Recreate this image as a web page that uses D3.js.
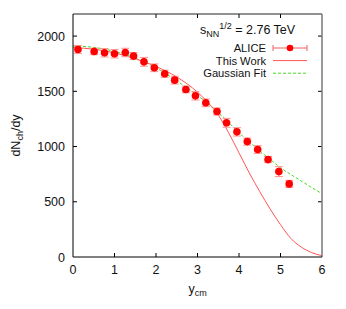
<!DOCTYPE html>
<html>
<head>
<meta charset="utf-8">
<script src="https://cdn.jsdelivr.net/npm/d3@7"></script>
<style>
  body { margin: 0; background: #fff; }
  text { font-family: "Liberation Sans", Arial, sans-serif; }
</style>
</head>
<body>
<svg id="chart" width="346" height="309"></svg>
<script>
// ALICE points
const aliceY = [0.12, 0.51, 0.76, 1.0, 1.26, 1.46, 1.71, 1.96, 2.21, 2.45, 2.72, 2.95, 3.2, 3.47, 3.7, 3.95, 4.2, 4.45, 4.7, 4.96, 5.21];
const aliceN = [1879, 1861, 1849, 1840, 1852, 1819, 1767, 1713, 1659, 1601, 1517, 1459, 1396, 1317, 1215, 1133, 1045, 973, 882, 773, 662];
const aliceErr = [35, 30, 38, 38, 38, 32, 40, 35, 32, 35, 30, 38, 35, 32, 40, 38, 32, 35, 28, 45, 32];

// "This Work" curve
const workY = [0, 0.5, 1, 1.5, 2, 2.5, 3, 3.25, 3.5, 3.75, 4, 4.25, 4.5, 4.75, 5, 5.25, 5.5, 5.75, 6];
const workN = [1895, 1882, 1848, 1795, 1725, 1630, 1492, 1400, 1285, 1125, 943, 760, 592, 435, 293, 168, 90, 40, 12];

// Gaussian fit curve
const gaussY = [0, 0.5, 1, 1.5, 2, 2.5, 3, 3.5, 4, 4.5, 5, 5.5, 6];
const gaussN = [1910, 1898, 1862, 1800, 1712, 1595, 1462, 1310, 1125, 962, 810, 688, 573];

const xTicks = [0, 1, 2, 3, 4, 5, 6];
const yTicks = [0, 500, 1000, 1500, 2000];

const margin = { top: 14, right: 24, bottom: 52, left: 73 };
const width = 346 - margin.left - margin.right;
const height = 309 - margin.top - margin.bottom;

const svg = d3.select('#chart');
const g = svg.append('g').attr('transform', `translate(${margin.left},${margin.top})`);

const x = d3.scaleLinear().domain([0, 6]).range([0, width]);
const y = d3.scaleLinear().domain([0, 2200]).range([height, 0]);

svg.append('clipPath').attr('id', 'clip')
  .append('rect').attr('width', width).attr('height', height);

// ticks (inward, mirrored)
const tl = 4;
g.append('g').selectAll('line').data(xTicks.slice(1, -1)).enter().append('line')
  .attr('x1', d => x(d)).attr('x2', d => x(d)).attr('y1', height).attr('y2', height - tl)
  .attr('stroke', '#000');
g.append('g').selectAll('line').data(xTicks.slice(1, -1)).enter().append('line')
  .attr('x1', d => x(d)).attr('x2', d => x(d)).attr('y1', 0).attr('y2', tl)
  .attr('stroke', '#000');
g.append('g').selectAll('line').data(yTicks.slice(1)).enter().append('line')
  .attr('x1', 0).attr('x2', tl).attr('y1', d => y(d)).attr('y2', d => y(d))
  .attr('stroke', '#000');
g.append('g').selectAll('line').data(yTicks.slice(1)).enter().append('line')
  .attr('x1', width).attr('x2', width - tl).attr('y1', d => y(d)).attr('y2', d => y(d))
  .attr('stroke', '#000');

// tick labels
g.selectAll('text.xl').data(xTicks).enter().append('text')
  .attr('x', d => x(d)).attr('y', height + 17)
  .attr('text-anchor', 'middle').attr('font-size', 12.5).attr('fill', '#111')
  .text(d => d);
g.selectAll('text.yl').data(yTicks).enter().append('text')
  .attr('x', -8).attr('y', d => y(d) + 4.5)
  .attr('text-anchor', 'end').attr('font-size', 12.5).attr('fill', '#111')
  .text(d => d);

// curves
const plot = g.append('g').attr('clip-path', 'url(#clip)');
const line = d3.line().x(d => x(d[0])).y(d => y(d[1])).curve(d3.curveMonotoneX);

plot.append('path')
  .datum(gaussY.map((v, i) => [v, gaussN[i]]))
  .attr('d', line).attr('fill', 'none')
  .attr('stroke', '#44dd22').attr('stroke-width', 1).attr('stroke-dasharray', '3,2');

plot.append('path')
  .datum(workY.map((v, i) => [v, workN[i]]))
  .attr('d', line).attr('fill', 'none')
  .attr('stroke', '#ff5555').attr('stroke-width', 1);

// error bars
const errColor = '#ff9090';
const pts = aliceY.map((v, i) => ({ x: v, n: aliceN[i], e: aliceErr[i] }));
const eb = plot.append('g').selectAll('g').data(pts).enter().append('g');
eb.append('line')
  .attr('x1', d => x(d.x)).attr('x2', d => x(d.x))
  .attr('y1', d => y(d.n - d.e)).attr('y2', d => y(d.n + d.e))
  .attr('stroke', errColor).attr('stroke-width', 1);
eb.append('line')
  .attr('x1', d => x(d.x) - 4).attr('x2', d => x(d.x) + 4)
  .attr('y1', d => y(d.n - d.e)).attr('y2', d => y(d.n - d.e))
  .attr('stroke', errColor).attr('stroke-width', 1);
eb.append('line')
  .attr('x1', d => x(d.x) - 4).attr('x2', d => x(d.x) + 4)
  .attr('y1', d => y(d.n + d.e)).attr('y2', d => y(d.n + d.e))
  .attr('stroke', errColor).attr('stroke-width', 1);
eb.append('circle')
  .attr('cx', d => x(d.x)).attr('cy', d => y(d.n)).attr('r', 3.8)
  .attr('fill', '#ff0000');

// border
g.append('line').attr('x1', 0).attr('x2', width).attr('y1', 0).attr('y2', 0).attr('stroke', '#222');
g.append('line').attr('x1', width).attr('x2', width).attr('y1', 0).attr('y2', height).attr('stroke', '#777').attr('stroke-width', 1.5);
g.append('line').attr('x1', 0).attr('x2', 0).attr('y1', 0).attr('y2', height).attr('stroke', '#000');
g.append('line').attr('x1', 0).attr('x2', width).attr('y1', height).attr('y2', height).attr('stroke', '#000');

// legend
const lg = svg.append('g');
const sqrtT = lg.append('text').attr('x', 200).attr('y', 34).attr('font-size', 12.5).attr('fill', '#111');
sqrtT.append('tspan').text('s');
sqrtT.append('tspan').attr('font-size', 9).attr('dy', 3).text('NN');
sqrtT.append('tspan').attr('font-size', 9).attr('dy', -8).text('1/2');
sqrtT.append('tspan').attr('dy', 5).text(' = 2.76 TeV');

const legItems = ['ALICE', 'This Work', 'Gaussian Fit'];
const legStep = 12.6;
legItems.forEach((name, i) => {
  const yy = 48 + i * legStep;
  lg.append('text').attr('x', 266).attr('y', yy + 4).attr('text-anchor', 'end')
    .attr('font-size', 11.2).attr('fill', '#111').text(name);
});
// ALICE sample
lg.append('line').attr('x1', 273).attr('x2', 307).attr('y1', 48).attr('y2', 48).attr('stroke', '#f06060');
lg.append('line').attr('x1', 273).attr('x2', 273).attr('y1', 45).attr('y2', 51).attr('stroke', '#f06060');
lg.append('line').attr('x1', 307).attr('x2', 307).attr('y1', 45).attr('y2', 51).attr('stroke', '#f06060');
lg.append('circle').attr('cx', 290).attr('cy', 48).attr('r', 3.3).attr('fill', '#ff0000');
lg.append('line').attr('x1', 273).attr('x2', 307).attr('y1', 48 + legStep).attr('y2', 48 + legStep).attr('stroke', '#ff5555');
lg.append('line').attr('x1', 273).attr('x2', 307).attr('y1', 48 + 2 * legStep).attr('y2', 48 + 2 * legStep)
  .attr('stroke', '#44dd22').attr('stroke-dasharray', '3,2');

// axis titles
const yt = svg.append('text').attr('transform', `translate(20,${margin.top + height / 2}) rotate(-90)`)
  .attr('text-anchor', 'middle').attr('font-size', 12.5).attr('fill', '#111');
yt.append('tspan').text('dN');
yt.append('tspan').attr('font-size', 9).attr('dy', 3).text('ch');
yt.append('tspan').attr('dy', -3).text('/dy');

const xt = svg.append('text').attr('x', margin.left + width / 2).attr('y', 293)
  .attr('text-anchor', 'middle').attr('font-size', 12.5).attr('fill', '#111');
xt.append('tspan').text('y');
xt.append('tspan').attr('font-size', 9).attr('dy', 3).text('cm');
</script>
</body>
</html>
